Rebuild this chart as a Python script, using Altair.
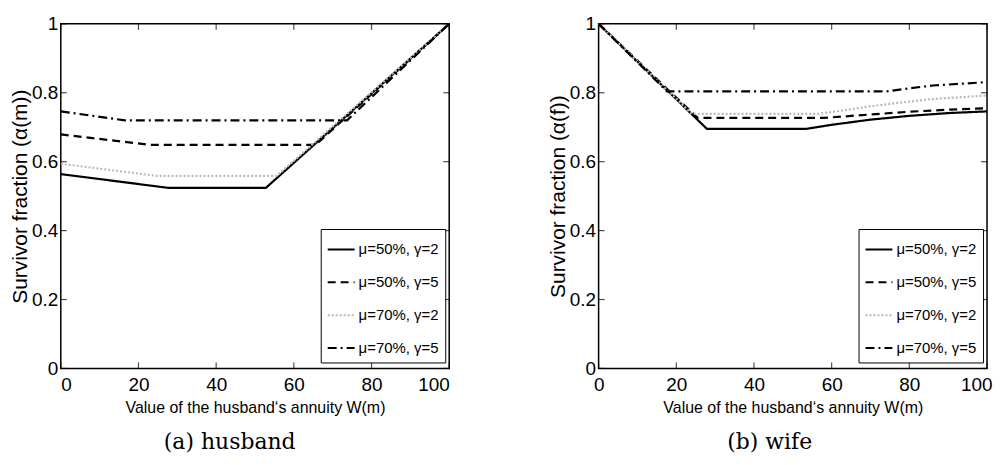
import altair as alt
import pandas as pd

SERIES = ["μ=50%, γ=2", "μ=50%, γ=5", "μ=70%, γ=2", "μ=70%, γ=5"]
COLORS = ["#000000", "#000000", "#b8b8b8", "#000000"]
DASHES = [[1, 0], [8, 5], [2, 2], [9, 4, 2, 4]]

# (a) husband
H_W_S1 = [0, 27.7, 52.8, 100]
H_A_S1 = [0.564, 0.524, 0.524, 1.0]
H_W_S2 = [0, 22.9, 65.6, 100]
H_A_S2 = [0.679, 0.649, 0.649, 1.0]
H_W_S3 = [0, 24.6, 55.6, 100]
H_A_S3 = [0.594, 0.559, 0.559, 1.0]
H_W_S4 = [0, 16.5, 73.7, 100]
H_A_S4 = [0.746, 0.720, 0.720, 1.0]

# (b) wife
F_W_S1 = [0, 27.9, 53.3, 60, 70, 80, 90, 100]
F_A_S1 = [1.0, 0.695, 0.695, 0.707, 0.722, 0.733, 0.741, 0.746]
F_W_S2 = [0, 25.5, 58, 70, 80, 90, 100]
F_A_S2 = [1.0, 0.727, 0.727, 0.737, 0.745, 0.751, 0.755]
F_W_S3 = [0, 24.0, 56.7, 65, 70, 85, 100]
F_A_S3 = [1.0, 0.739, 0.739, 0.752, 0.761, 0.781, 0.792]
F_W_S4 = [0, 17.6, 74.2, 80, 86, 100]
F_A_S4 = [1.0, 0.804, 0.804, 0.813, 0.821, 0.831]

X_TICKS = [0, 20, 40, 60, 80, 100]
Y_TICKS = [0, 0.2, 0.4, 0.6, 0.8, 1.0]
X_TITLE = "Value of the husband‘s annuity W(m)"

W, H = 390, 346
SANS = "Liberation Sans"
TICK_LEN = 6


def frame(ws, as_):
    rows = []
    for s, w, a in zip(SERIES, ws, as_):
        for i, (xv, yv) in enumerate(zip(w, a)):
            rows.append({"series": s, "W": xv, "A": yv, "order": i})
    return pd.DataFrame(rows)


XT_DF = pd.DataFrame({"t": X_TICKS})
YT_DF = pd.DataFrame({"t": Y_TICKS})


def inner_ticks(xs, ys):
    common = dict(color="black", size=TICK_LEN, thickness=1.2)
    xb = alt.Chart(XT_DF).mark_tick(orient="vertical", yOffset=-TICK_LEN / 2, **common).encode(
        x=alt.X("t:Q", scale=xs, axis=None), y=alt.YDatum(0, type="quantitative", scale=ys, axis=None))
    xt = alt.Chart(XT_DF).mark_tick(orient="vertical", yOffset=TICK_LEN / 2, **common).encode(
        x=alt.X("t:Q", scale=xs, axis=None), y=alt.YDatum(1, type="quantitative", scale=ys, axis=None))
    yl = alt.Chart(YT_DF).mark_tick(orient="horizontal", xOffset=TICK_LEN / 2, **common).encode(
        y=alt.Y("t:Q", scale=ys, axis=None), x=alt.XDatum(0, type="quantitative", scale=xs, axis=None))
    yr = alt.Chart(YT_DF).mark_tick(orient="horizontal", xOffset=-TICK_LEN / 2, **common).encode(
        y=alt.Y("t:Q", scale=ys, axis=None), x=alt.XDatum(100, type="quantitative", scale=xs, axis=None))
    return [xb, xt, yl, yr]


def panel(df, ytitle, caption, flush):
    xs = alt.Scale(domain=[0, 100], nice=False)
    ys = alt.Scale(domain=[0, 1], nice=False)
    legend = alt.Legend(
        title=None, orient="none", legendX=W - 129, legendY=H - 140,
        symbolType="stroke", symbolSize=729, symbolStrokeWidth=2,
        labelFont=SANS, labelFontSize=15, labelColor="black",
        strokeColor="black", fillColor="white", padding=6, cornerRadius=0,
        rowPadding=10, labelOffset=3,
    )
    xaxis_kw = dict(
        orient="bottom", values=X_TICKS, tickSize=0, domain=False, grid=False,
        labelFont=SANS, labelFontSize=19, labelColor="black", labelPadding=7,
        title=X_TITLE, titleFont=SANS, titleFontSize=16, titleFontWeight="normal",
        titleColor="black", titlePadding=5)
    if flush:
        xaxis_kw.update(labelFlush=True, labelFlushOffset=5)
    main = alt.Chart(df).mark_line(strokeWidth=2.2, clip=True).encode(
        x=alt.X("W:Q", scale=xs, axis=alt.Axis(**xaxis_kw)),
        y=alt.Y("A:Q", scale=ys, axis=alt.Axis(
            orient="left", values=Y_TICKS, format="~g", tickSize=0, domain=False, grid=False,
            labelFont=SANS, labelFontSize=19, labelColor="black", labelPadding=3,
            title=ytitle, titleFont=SANS, titleFontSize=21, titleFontWeight="normal",
            titleColor="black", titlePadding=1)),
        color=alt.Color("series:N", scale=alt.Scale(domain=SERIES, range=COLORS), legend=legend),
        strokeDash=alt.StrokeDash("series:N", scale=alt.Scale(domain=SERIES, range=DASHES), legend=legend),
        order="order:Q",
    )
    return alt.layer(*inner_ticks(xs, ys), main).resolve_axis(
        x="independent", y="independent").properties(
        width=W, height=H,
        title=alt.TitleParams(text=caption, orient="bottom", font="DejaVu Serif", fontSize=22,
                              fontWeight="normal", color="black", offset=17, frame="bounds",
                              anchor="middle"),
    )


husband = panel(frame([H_W_S1, H_W_S2, H_W_S3, H_W_S4], [H_A_S1, H_A_S2, H_A_S3, H_A_S4]),
                "Survivor fraction (α(m))", "(a) husband", False)
wife = panel(frame([F_W_S1, F_W_S2, F_W_S3, F_W_S4], [F_A_S1, F_A_S2, F_A_S3, F_A_S4]),
             "Survivor fraction (α(f))", "(b) wife", True)

chart = alt.hconcat(husband, wife, spacing=95).resolve_scale(
    color="independent", strokeDash="independent").resolve_legend(
    color="independent", strokeDash="independent").configure_view(
    stroke="black", strokeWidth=1.5).properties(padding={"left": 0, "top": 5, "right": 0, "bottom": 0})

chart.save("out.html", embed_options={"renderer": "svg", "actions": False})
